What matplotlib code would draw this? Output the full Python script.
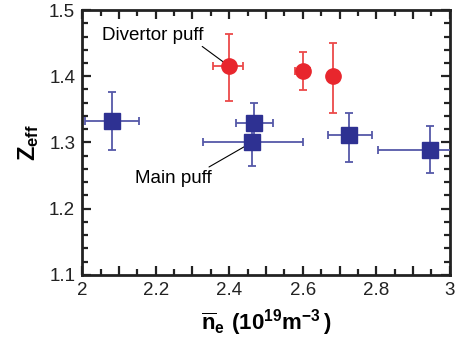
"""Z_eff versus line-averaged density for main and divertor gas puffing."""
import matplotlib
matplotlib.use("Agg")
import matplotlib.pyplot as plt
from matplotlib.ticker import MultipleLocator, FuncFormatter

plt.rcParams["font.family"] = "Liberation Sans"
plt.rcParams["mathtext.fontset"] = "custom"
plt.rcParams["mathtext.rm"] = "Liberation Sans"
plt.rcParams["mathtext.bf"] = "Liberation Sans:bold"

# main puff (squares)
main_ne = [2.08, 2.468, 2.461, 2.725, 2.946]
main_z = [1.333, 1.330, 1.300, 1.311, 1.289]
main_ne_lo = [0.073, 0.050, 0.133, 0.056, 0.141]
main_ne_hi = [0.075, 0.052, 0.139, 0.063, 0.110]
main_z_lo = [0.045, 0.029, 0.036, 0.040, 0.035]
main_z_hi = [0.043, 0.029, 0.036, 0.034, 0.036]

# divertor puff (circles)
div_ne = [2.400, 2.601, 2.681]
div_z = [1.415, 1.408, 1.400]
div_ne_lo = [0.043, 0.022, 0.0]
div_ne_hi = [0.038, 0.020, 0.0]
div_z_lo = [0.053, 0.029, 0.055]
div_z_hi = [0.049, 0.029, 0.050]

blue = "#2e3192"
red = "#e8262d"

fig = plt.figure(figsize=(4.59, 3.45), dpi=100)
ax = fig.add_axes([0.179, 0.203, 0.801, 0.768])

ax.errorbar(main_ne, main_z, xerr=[main_ne_lo, main_ne_hi],
            yerr=[main_z_lo, main_z_hi], fmt="s", color=blue,
            ecolor="#5558a8", elinewidth=1.3, capsize=3, capthick=1.3,
            markersize=11, zorder=3)
ax.errorbar(div_ne, div_z, xerr=[div_ne_lo, div_ne_hi],
            yerr=[div_z_lo, div_z_hi], fmt="o", color=red,
            ecolor="#ec4a4a", elinewidth=1.3, capsize=3, capthick=1.3,
            markersize=11, zorder=3)

ax.annotate("Divertor puff", xy=(div_ne[0], div_z[0]), xytext=(2.054, 1.462),
            fontsize=13.5, va="center", ha="left",
            arrowprops=dict(arrowstyle="-", color="black", lw=0.8,
                            shrinkA=0, shrinkB=0, relpos=(0.95, 0.0)))
ax.annotate("Main puff", xy=(main_ne[2], main_z[2]), xytext=(2.144, 1.246),
            fontsize=13.5, va="center", ha="left",
            arrowprops=dict(arrowstyle="-", color="black", lw=0.8,
                            shrinkA=0, shrinkB=0, relpos=(0.9, 1.0)))

ax.set_xlim(2, 3)
ax.set_ylim(1.1, 1.5)

ax.xaxis.set_major_locator(MultipleLocator(0.1))
ax.xaxis.set_minor_locator(MultipleLocator(0.05))
ax.xaxis.set_major_formatter(FuncFormatter(
    lambda v, p: (f"{v:.1f}".rstrip("0").rstrip(".") if round(v * 10) % 2 == 0 else "")))
ax.yaxis.set_major_locator(MultipleLocator(0.1))
ax.yaxis.set_minor_locator(MultipleLocator(0.02))
ax.yaxis.set_major_formatter(FuncFormatter(lambda v, p: f"{v:.1f}"))

ax.tick_params(which="both", direction="in", top=True, right=True,
               width=1.6, labelsize=13.5, color="#222222", labelcolor="#222222")
ax.tick_params(which="major", length=6.5, pad=5)
ax.tick_params(which="minor", length=4)
for s in ax.spines.values():
    s.set_linewidth(2)
    s.set_color("#222222")

ax.set_xlabel(r"$\mathbf{\overline{n}_e\ (10^{19}m^{-3}\,)}$", fontsize=16, labelpad=6)
ax.set_ylabel(r"$\mathbf{Z_{eff}}$", fontsize=17, labelpad=6)

fig.savefig("out.png", dpi=100)
